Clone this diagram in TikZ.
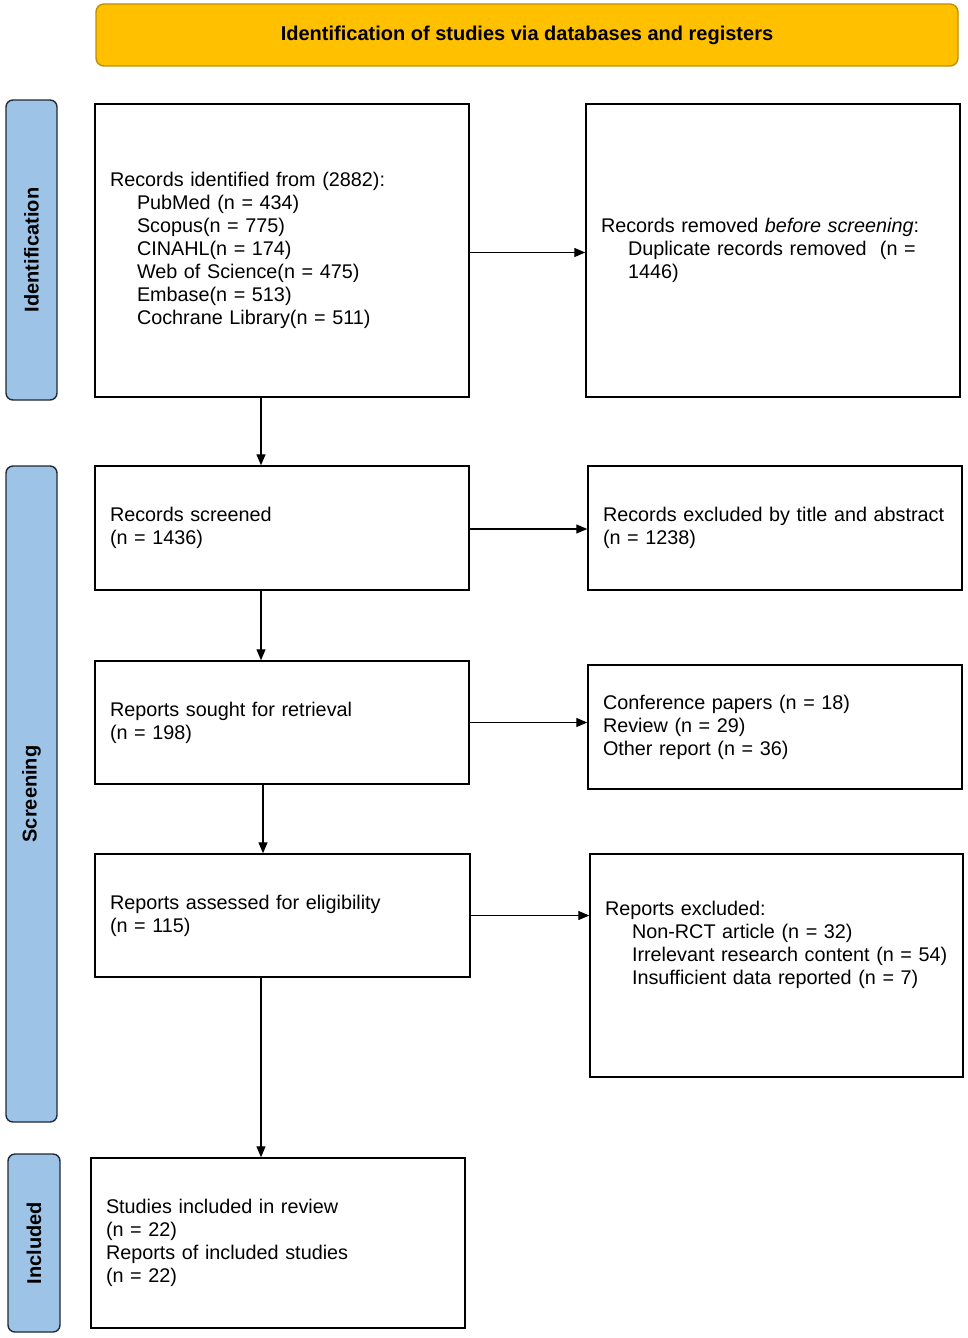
\documentclass[tikz,border=0pt]{standalone}
\usepackage{fontspec}
\setmainfont{Liberation Sans}
\usetikzlibrary{arrows.meta}
\definecolor{titlefill}{HTML}{FFC000}
\definecolor{titledraw}{HTML}{BF9000}
\definecolor{sidefill}{HTML}{9DC3E6}
\definecolor{sidedraw}{HTML}{222A35}
\tikzset{
  txt/.style={font=\fontsize{19.8}{23}\selectfont},
  stagebox/.style={draw=black, line width=1.4pt, align=left, inner xsep=15pt, inner ysep=0pt, txt},
  sidebox/.style={draw=sidedraw, fill=sidefill, line width=1.4pt, rounded corners=7pt, rotate=90,
    font=\fontsize{20}{23}\selectfont\bfseries, inner sep=0pt},
  arr/.style={line width=1.2pt, -{Triangle[length=11pt,width=9pt]}},
}
\newcommand{\ind}{\hspace*{27pt}}
\begin{document}
\begin{tikzpicture}[x=1pt,y=-1pt]
\useasboundingbox (0,0) rectangle (968,1338);
% title
\node[draw=titledraw, fill=titlefill, line width=1.4pt, rounded corners=8pt, minimum width=862pt, minimum height=62pt,
  font=\fontsize{20}{23}\selectfont\bfseries] (title) at (527,35) {Identification of studies via databases and registers};
% side labels
\node[sidebox, minimum width=300pt, minimum height=51pt] (sideid) at (31.5,250) {Identification};
\node[sidebox, minimum width=656pt, minimum height=51pt] (sidescr) at (31.5,794) {Screening};
\node[sidebox, minimum width=178pt, minimum height=52pt] (sideinc) at (34,1243) {Included};
% boxes
\node[stagebox, text width=344pt, minimum height=293pt] (b1) at (282,250.5)
 {Records identified from (2882):\\\ind PubMed (n = 434)\\\ind Scopus(n = 775)\\\ind CINAHL(n = 174)\\\ind Web of Science(n = 475)\\\ind Embase(n = 513)\\\ind Cochrane Library(n = 511)};
\node[stagebox, text width=344pt, minimum height=293pt] (b2) at (773,250.5)
 {Records removed \textit{before screening}:\\\ind Duplicate records removed\ \ (n =\\\ind 1446)};
\node[stagebox, text width=344pt, minimum height=124pt] (b3) at (282,528)
 {Records screened\\(n = 1436)};
\node[stagebox, text width=344pt, minimum height=124pt] (b4) at (775,528)
 {Records excluded by title and abstract\\(n = 1238)};
\node[stagebox, text width=344pt, minimum height=123pt] (b5) at (282,722.5)
 {Reports sought for retrieval\\(n = 198)};
\node[stagebox, text width=344pt, minimum height=124pt] (b6) at (775,727)
 {Conference papers (n = 18)\\Review (n = 29)\\Other report (n = 36)};
\node[stagebox, text width=345pt, minimum height=123pt] (b7) at (282.5,915.5)
 {Reports assessed for eligibility\\(n = 115)};
\node[stagebox, text width=343pt, minimum height=223pt] (b8) at (776.5,965.5)
 {Reports excluded:\\\ind Non-RCT article (n = 32)\\\ind Irrelevant research content (n = 54)\\\ind Insufficient data reported (n = 7)\\[22pt]\mbox{}};
\node[stagebox, text width=344pt, minimum height=170pt] (b9) at (278,1243)
 {Studies included in review\\(n = 22)\\Reports of included studies\\(n = 22)};
% arrows
\draw[arr] ([yshift=-2pt]b1.east) -- ([yshift=-2pt]b1.east -| b2.west);
\draw[arr] ([yshift=-1pt]b3.east) -- ([yshift=-1pt]b3.east -| b4.west);
\draw[arr] (b5.east) -- (b5.east -| b6.west);
\draw[arr] (b7.east) -- (b7.east -| b8.west);
\draw[arr] ([xshift=-21pt]b1.south) -- ([xshift=-21pt]b1.south |- b3.north);
\draw[arr] ([xshift=-21pt]b3.south) -- ([xshift=-21pt]b3.south |- b5.north);
\draw[arr] ([xshift=-19pt]b5.south) -- ([xshift=-19pt]b5.south |- b7.north);
\draw[arr] ([xshift=-21.5pt]b7.south) -- ([xshift=-21.5pt]b7.south |- b9.north);
\end{tikzpicture}
\end{document}
